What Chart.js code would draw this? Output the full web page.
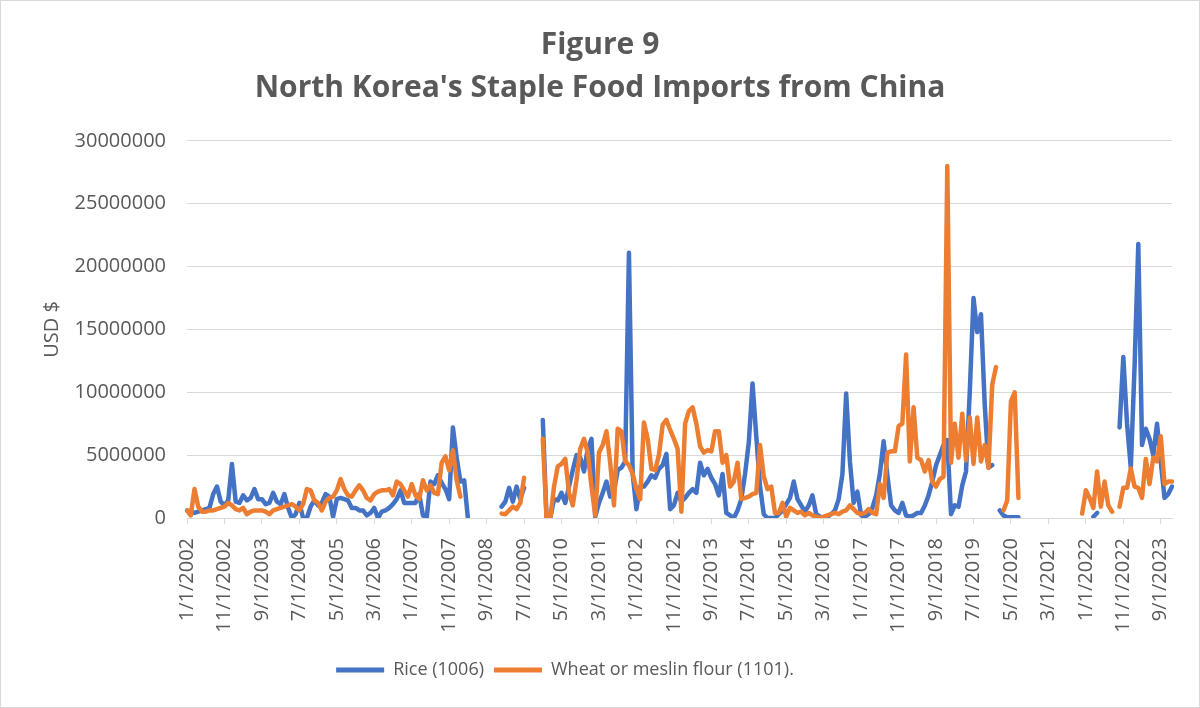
<!DOCTYPE html>
<html>
<head>
<meta charset="utf-8">
<script src="https://cdn.jsdelivr.net/npm/chart.js@4"></script>
<style>
  html, body { margin: 0; padding: 0; background: #fff; }
  #wrap { width: 1200px; height: 708px; box-sizing: border-box; border: 1px solid #d9d9d9; }
</style>
</head>
<body>
<div id="wrap"><canvas id="myChart"></canvas></div>
<script>
// monthly categories, Jan 2002 .. Dec 2023
var monthLabels = [];
for (var y = 2002; y <= 2023; y++) {
    for (var m = 1; m <= 12; m++) {
        monthLabels.push(m + "/1/" + y);
    }
}

// values in millions of USD, null = no data (one row = one year)
var riceMillions = [
    0.6, 0.5, 0.4, 0.5, 0.6, 0.7, 0.8, 1.9, 2.5, 1.3, 1.0, 1.4,
    4.3, 1.3, 1.2, 1.8, 1.4, 1.6, 2.3, 1.5, 1.5, 1.1, 1.2, 2.0,
    1.3, 1.1, 1.9, 0.8, 0.0, 0.3, 1.2, 0.0, 0.0, 0.9, 1.4, 1.0,
    1.2, 1.9, 1.7, 0.1, 1.5, 1.6, 1.5, 1.4, 0.8, 0.8, 0.6, 0.6,
    0.2, 0.4, 0.8, 0.0, 0.5, 0.6, 0.8, 1.1, 1.5, 2.2, 1.2, 1.2,
    1.2, 1.2, 1.9, 0.2, 0.0, 2.9, 2.7, 3.4, 2.8, 2.3, 1.5, 7.2,
    4.8, 2.9, 3.0, 0.0, null, null, null, null, null, null, null, null,
    0.9, 1.3, 2.4, 1.3, 2.5, 1.5, 2.4, null, null, null, null, 7.8,
    0.0, 0.0, 1.5, 1.4, 2.0, 1.2, 2.5, 3.8, 5.0, 4.8, 3.7, 5.5,
    6.3, 0.1, 1.2, 2.0, 2.9, 1.7, 2.1, 3.8, 4.0, 4.5, 21.1, 3.5,
    0.7, 2.5, 2.5, 2.9, 3.4, 3.2, 3.9, 4.2, 5.1, 0.7, 1.0, 2.0,
    1.3, 1.6, 2.0, 2.3, 2.0, 4.4, 3.4, 3.9, 3.2, 2.7, 1.8, 3.5,
    0.4, 0.2, 0.0, 0.6, 1.5, 3.5, 6.0, 10.7, 6.5, 2.5, 0.3, 0.0,
    0.0, 0.0, 0.3, 0.6, 1.1, 1.6, 2.9, 1.5, 1.0, 0.5, 1.0, 1.8,
    0.3, 0.1, 0.0, 0.1, 0.3, 0.6, 1.5, 3.5, 9.9, 4.5, 1.2, 2.1,
    0.2, 0.1, 0.3, 0.8, 1.8, 3.5, 6.1, 3.4, 1.0, 0.6, 0.4, 1.2,
    0.2, 0.1, 0.2, 0.4, 0.4, 1.0, 1.8, 2.9, 4.2, 5.0, 5.8, 6.2,
    0.3, 1.0, 0.9, 2.6, 3.7, 10.0, 17.5, 14.8, 16.2, 9.0, 4.0, 4.2,
    null, 0.6, 0.2, 0.05, 0.05, 0.05, 0.05, null, null, null, null, null,
    null, null, null, null, null, null, null, null, null, null, null, null,
    null, null, 0.1, 0.4, null, null, null, null, null, 7.2, 12.8, 7.5,
    4.0, 12.0, 21.8, 5.8, 7.1, 6.3, 5.0, 7.5, 4.5, 1.6, 1.9, 2.5
];

var wheatMillions = [
    0.6, 0.2, 2.3, 0.9, 0.5, 0.5, 0.6, 0.6, 0.7, 0.8, 0.9, 1.2,
    1.0, 0.7, 0.6, 0.8, 0.3, 0.5, 0.6, 0.6, 0.6, 0.5, 0.3, 0.6,
    0.7, 0.8, 0.9, 1.0, 1.1, 0.9, 0.6, 1.1, 2.3, 2.2, 1.4, 1.2,
    0.6, 1.3, 1.6, 1.7, 2.2, 3.1, 2.3, 1.8, 1.7, 2.2, 2.6, 2.2,
    1.6, 1.4, 1.9, 2.1, 2.2, 2.2, 2.3, 1.8, 2.9, 2.7, 2.2, 1.7,
    2.7, 1.8, 1.5, 3.0, 2.2, 2.6, 2.0, 1.9, 4.4, 4.9, 3.8, 5.4,
    3.0, 1.7, null, null, null, null, null, null, null, null, null, null,
    0.35, 0.3, 0.6, 0.9, 0.7, 1.2, 3.2, null, null, null, null, 6.3,
    0.0, 0.0, 2.5, 4.1, 4.3, 4.7, 2.0, 1.0, 3.0, 5.5, 6.3, 5.2,
    2.5, 0.2, 5.2, 5.8, 6.9, 4.4, 1.0, 7.1, 6.9, 4.5, 4.2, 3.5,
    2.3, 1.5, 7.6, 6.3, 3.9, 3.8, 5.0, 7.4, 7.8, 7.0, 6.3, 5.5,
    0.5, 7.5, 8.5, 8.8, 7.5, 5.7, 5.2, 5.4, 5.3, 6.9, 6.9, 4.4,
    5.0, 2.5, 2.9, 4.4, 1.5, 1.6, 1.7, 1.9, 2.0, 5.8, 3.3, 2.3,
    2.5, 0.4, 0.4, 1.2, 0.1, 0.8, 0.6, 0.4, 0.5, 0.2, 0.4, 0.2,
    0.1, 0.0, 0.1, 0.2, 0.3, 0.4, 0.3, 0.5, 0.6, 1.0, 0.7, 0.4,
    0.3, 0.4, 0.7, 0.4, 0.3, 2.7, 1.6, 5.2, 5.3, 5.3, 7.3, 7.5,
    13.0, 4.5, 8.8, 4.8, 4.6, 3.7, 4.6, 2.9, 2.5, 3.1, 3.3, 28.0,
    4.4, 7.5, 4.8, 8.3, 4.6, 8.0, 4.3, 8.0, 4.5, 5.8, 4.0, 10.6,
    12.0, null, 0.6, 1.4, 9.3, 10.0, 1.6, null, null, null, null, null,
    null, null, null, null, null, null, null, null, null, null, null, 0.35,
    2.2, 1.6, 0.8, 3.7, 0.9, 2.9, 1.0, 0.5, null, 0.9, 2.4, 2.4,
    3.95, 2.5, 2.4, 1.6, 4.7, 2.7, 4.8, 4.5, 6.5, 2.7, 2.9, 2.9
];

var yTicks = [0, 5, 10, 15, 20, 25, 30];
var labelEvery = 10;

var grey = "#595959";
var fontName = "'Open Sans', 'DejaVu Sans', sans-serif";

// Excel puts the legend a bit left of centre
var legendShift = {
    id: "legendShift",
    afterLayout: (chart) => {
        chart.legend.left -= 35;
        chart.legend.right -= 35;
    },
};

var ctx = document.getElementById("myChart").getContext("2d");
var myChart = new Chart(ctx, {
    type: "line",
    data: {
        labels: monthLabels,
        datasets: [
            {
                label: "Rice (1006)",
                data: riceMillions,
                borderColor: "#4472c4",
                backgroundColor: "#4472c4",
                borderWidth: 4.5,
                pointRadius: 0,
                tension: 0,
                spanGaps: false,
                borderJoinStyle: "round",
                borderCapStyle: "round",
                order: 1,
            },
            {
                label: "Wheat or meslin flour (1101).",
                data: wheatMillions,
                borderColor: "#ed7d31",
                backgroundColor: "#ed7d31",
                borderWidth: 4.5,
                pointRadius: 0,
                tension: 0,
                spanGaps: false,
                borderJoinStyle: "round",
                borderCapStyle: "round",
                order: 0,
            },
        ],
    },
    plugins: [legendShift],
    options: {
        responsive: true,
        maintainAspectRatio: false,
        animation: false,
        layout: {
            padding: { left: 27, right: 27, top: 0, bottom: 18 },
        },
        plugins: {
            title: {
                display: true,
                text: ["Figure 9", "North Korea's Staple Food Imports from China"],
                color: grey,
                font: { family: fontName, size: 30, weight: "bold", lineHeight: 1.43 },
                padding: { top: 23, bottom: 31 },
            },
            legend: {
                position: "bottom",
                labels: {
                    color: grey,
                    font: { family: fontName, size: 18 },
                    boxWidth: 48,
                    boxHeight: 5,
                    padding: 10,
                    sort: (a, b) => a.datasetIndex - b.datasetIndex,
                    generateLabels: (chart) => {
                        var items = Chart.defaults.plugins.legend.labels.generateLabels(chart);
                        items.forEach((it) => {
                            it.lineWidth = 0;
                            it.fillStyle = chart.data.datasets[it.datasetIndex].borderColor;
                        });
                        return items;
                    },
                },
            },
            tooltip: { enabled: false },
        },
        scales: {
            x: {
                type: "category",
                offset: false,
                grid: {
                    display: true,
                    drawOnChartArea: false,
                    drawTicks: true,
                    tickLength: 6,
                    color: (c) => (c.index % labelEvery === 0 ? "#d9d9d9" : "rgba(0,0,0,0)"),
                },
                border: { display: true, color: "#d9d9d9" },
                ticks: {
                    autoSkip: false,
                    minRotation: 90,
                    maxRotation: 90,
                    padding: 14,
                    color: grey,
                    font: { family: fontName, size: 20 },
                    callback: function (val, idx) {
                        return idx % labelEvery === 0 ? monthLabels[idx] : "";
                    },
                },
                afterFit: (axis) => {
                    axis.height = 133;
                    axis.paddingLeft = 0;
                    axis.paddingRight = 0;
                },
            },
            y: {
                min: yTicks[0],
                max: yTicks[yTicks.length - 1],
                afterBuildTicks: (axis) => {
                    axis.ticks = yTicks.map((v) => ({ value: v }));
                },
                grid: { color: "#d9d9d9", drawTicks: false },
                border: { display: false },
                ticks: {
                    padding: 21,
                    color: grey,
                    font: { family: fontName, size: 20 },
                    callback: (v) => String(v * 1000000),
                },
                title: {
                    display: true,
                    text: "USD $",
                    color: grey,
                    font: { family: fontName, size: 20 },
                    padding: { top: 12, bottom: 0 },
                },
                afterFit: (axis) => {
                    axis.width = 159;
                },
            },
        },
    },
});
</script>
</body>
</html>
